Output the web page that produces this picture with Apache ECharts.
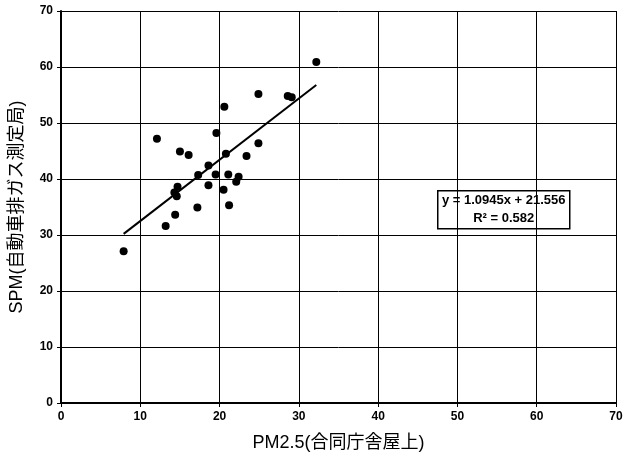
<!DOCTYPE html>
<html><head><meta charset="utf-8">
<script src="https://cdn.jsdelivr.net/npm/echarts@6/dist/echarts.min.js"></script>
<style>html,body{margin:0;padding:0;background:#fff}#c{width:626px;height:460px}</style>
</head><body><div id="c"></div>
<script>
const xValues = [32.2,24.9,28.6,29.1,20.6,19.6,12.1,24.9,15.0,16.1,20.8,23.4,18.6,17.3,19.5,21.1,22.4,22.1,18.6,20.5,14.7,14.3,14.6,21.2,17.2,14.4,13.2,7.9];
const yValues = [60.9,55.2,54.8,54.6,52.9,48.2,47.2,46.4,44.9,44.3,44.5,44.1,42.4,40.7,40.8,40.8,40.4,39.5,38.9,38.1,38.6,37.6,36.9,35.3,34.9,33.6,31.6,27.1];
const slope = 1.0945, intercept = 21.556;
const eqText = ['y = 1.0945x + 21.556', 'R² = 0.582'];
const xName = 'PM2.5(合同庁舎屋上)';
const yName = 'SPM(自動車排ガス測定局)';

const pts = xValues.map((x,i)=>[x,yValues[i]]);
const xmin = Math.min(...xValues), xmax = Math.max(...xValues);
const trend = [[xmin, slope*xmin+intercept],[xmax, slope*xmax+intercept]];
const FF = "'Liberation Sans','Noto Sans CJK JP',sans-serif";
const chart = echarts.init(document.getElementById('c'));
chart.setOption({
  animation:false,
  grid:{left:61,right:10,top:11,bottom:57},
  xAxis:{type:'value',min:0,max:70,interval:10,
    name:xName,nameLocation:'middle',nameGap:31,
    nameTextStyle:{fontFamily:FF,fontSize:18,color:'#000'},
    axisLine:{show:true,onZero:false,lineStyle:{color:'#000',width:2}},
    axisTick:{show:true,length:4,lineStyle:{color:'#000'}},
    axisLabel:{fontFamily:FF,fontSize:12,fontWeight:'bold',color:'#000',margin:8},
    splitLine:{show:true,lineStyle:{color:'#000',width:1}}},
  yAxis:{type:'value',min:0,max:70,interval:10,
    name:yName,nameLocation:'middle',nameGap:35,nameRotate:90,
    nameTextStyle:{fontFamily:FF,fontSize:18,color:'#000'},
    axisLine:{show:true,onZero:false,lineStyle:{color:'#000',width:2}},
    axisTick:{show:true,length:4,lineStyle:{color:'#000'}},
    axisLabel:{fontFamily:FF,fontSize:12,fontWeight:'bold',color:'#000',margin:8},
    splitLine:{show:true,lineStyle:{color:'#000',width:1}}},
  series:[
    {type:'scatter',data:pts,symbol:'circle',symbolSize:8,itemStyle:{color:'#000',opacity:1},z:3},
    {type:'line',data:trend,symbol:'none',lineStyle:{color:'#000',width:2},z:2}
  ],
  graphic:[{type:'group',left:437,top:190,children:[
    {type:'rect',shape:{x:0,y:0,width:132,height:38},style:{fill:'#fff',stroke:'#000',lineWidth:1.5}},
    {type:'text',x:66,y:3,style:{text:eqText[0],fill:'#000',font:"bold 13px 'Liberation Sans'",textAlign:'center'}},
    {type:'text',x:66,y:21,style:{text:eqText[1],fill:'#000',font:"bold 13px 'Liberation Sans'",textAlign:'center'}}
  ]}]
});
</script></body></html>
